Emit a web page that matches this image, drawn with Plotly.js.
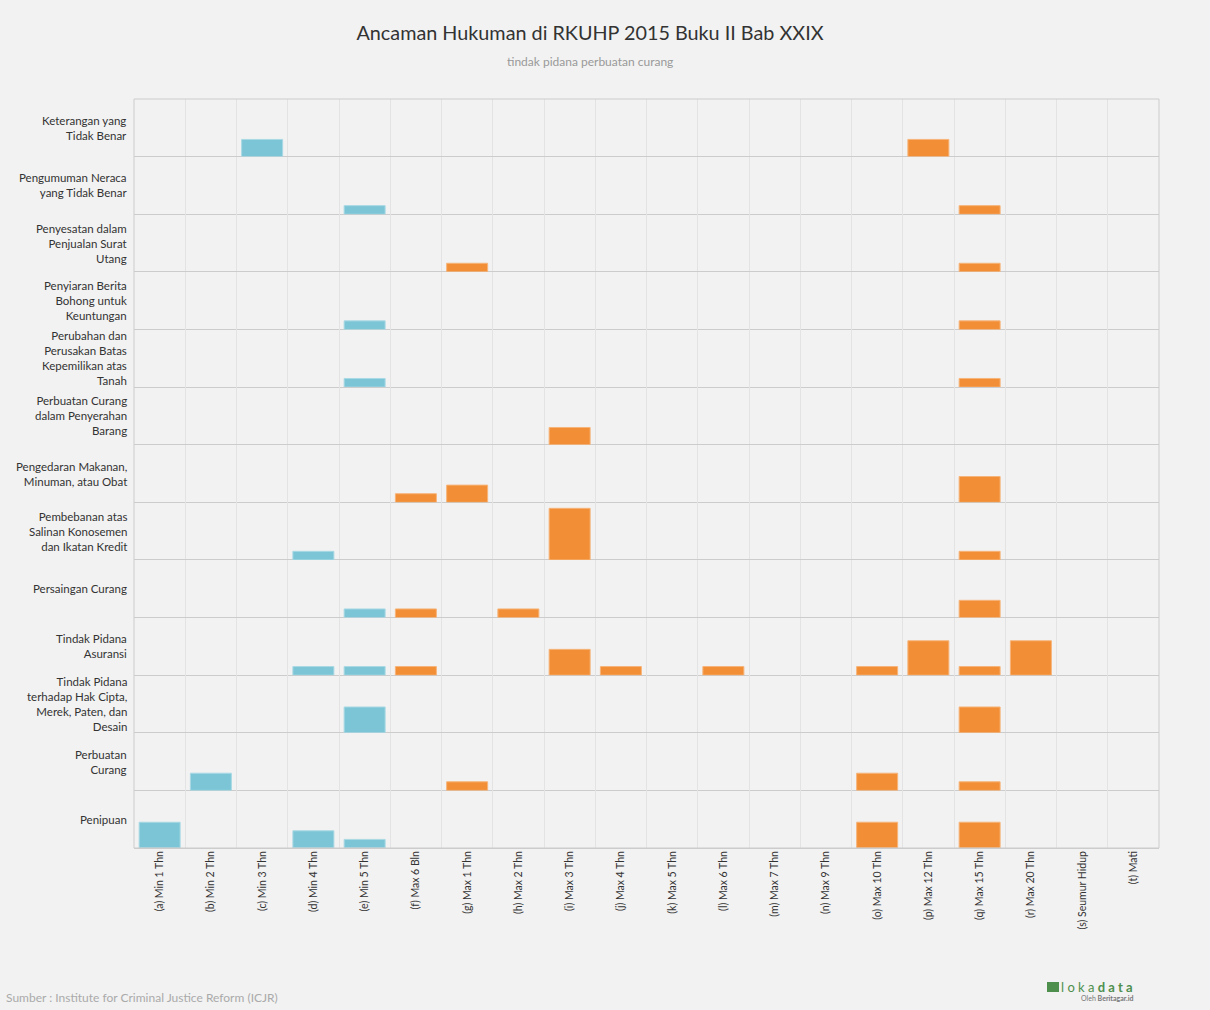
<!DOCTYPE html>
<html>
<head>
<meta charset="utf-8">
<script src="https://cdn.plot.ly/plotly-3.0.1.min.js"></script>
<style>
  html, body { margin: 0; padding: 0; background: #f2f2f2; }
  #chart { width: 1210px; height: 1010px; }
</style>
</head>
<body>
<div id="chart"></div>
<script>
// Column categories (penalty levels)
const categories = [
  "(a) Min 1 Thn", "(b) Min 2 Thn", "(c) Min 3 Thn", "(d) Min 4 Thn", "(e) Min 5 Thn",
  "(f) Max 6 Bln", "(g) Max 1 Thn", "(h) Max 2 Thn", "(i) Max 3 Thn", "(j) Max 4 Thn",
  "(k) Max 5 Thn", "(l) Max 6 Thn", "(m) Max 7 Thn", "(n) Max 9 Thn", "(o) Max 10 Thn",
  "(p) Max 12 Thn", "(q) Max 15 Thn", "(r) Max 20 Thn", "(s) Seumur Hidup", "(t) Mati"
];

// Row labels (offences), top to bottom
const rowLabels = [
  "Keterangan yang<br>Tidak Benar",
  "Pengumuman Neraca<br>yang Tidak Benar",
  "Penyesatan dalam<br>Penjualan Surat<br>Utang",
  "Penyiaran Berita<br>Bohong untuk<br>Keuntungan",
  "Perubahan dan<br>Perusakan Batas<br>Kepemilikan atas<br>Tanah",
  "Perbuatan Curang<br>dalam Penyerahan<br>Barang",
  "Pengedaran Makanan,<br>Minuman, atau Obat",
  "Pembebanan atas<br>Salinan Konosemen<br>dan Ikatan Kredit",
  "Persaingan Curang",
  "Tindak Pidana<br>Asuransi",
  "Tindak Pidana<br>terhadap Hak Cipta,<br>Merek, Paten, dan<br>Desain",
  "Perbuatan<br>Curang",
  "Penipuan"
];

// Number of articles per penalty level, one array per row (a .. t)
const keterangan   = [0,0,2,0,0, 0,0,0,0,0, 0,0,0,0,0, 2,0,0,0,0];
const pengumuman   = [0,0,0,0,1, 0,0,0,0,0, 0,0,0,0,0, 0,1,0,0,0];
const penyesatan   = [0,0,0,0,0, 0,1,0,0,0, 0,0,0,0,0, 0,1,0,0,0];
const penyiaran    = [0,0,0,0,1, 0,0,0,0,0, 0,0,0,0,0, 0,1,0,0,0];
const perubahan    = [0,0,0,0,1, 0,0,0,0,0, 0,0,0,0,0, 0,1,0,0,0];
const penyerahan   = [0,0,0,0,0, 0,0,0,2,0, 0,0,0,0,0, 0,0,0,0,0];
const pengedaran   = [0,0,0,0,0, 1,2,0,0,0, 0,0,0,0,0, 0,3,0,0,0];
const pembebanan   = [0,0,0,1,0, 0,0,0,6,0, 0,0,0,0,0, 0,1,0,0,0];
const persaingan   = [0,0,0,0,1, 1,0,1,0,0, 0,0,0,0,0, 0,2,0,0,0];
const asuransi     = [0,0,0,1,1, 1,0,0,3,1, 0,1,0,0,1, 4,1,4,0,0];
const hakCipta     = [0,0,0,0,3, 0,0,0,0,0, 0,0,0,0,0, 0,3,0,0,0];
const curang       = [0,2,0,0,0, 0,1,0,0,0, 0,0,0,0,2, 0,1,0,0,0];
const penipuan     = [3,0,0,2,1, 0,0,0,0,0, 0,0,0,0,3, 0,3,0,0,0];

const rowValues = [keterangan, pengumuman, penyesatan, penyiaran, perubahan, penyerahan,
  pengedaran, pembebanan, persaingan, asuransi, hakCipta, curang, penipuan];

const BLUE = "#7cc5d6", ORANGE = "#f28e35";
const BLUE_LINE = "#a9d9e4", ORANGE_LINE = "#f6b47a";
const isMin = categories.map(c => c.indexOf("Min") >= 0);

const nRows = rowLabels.length;
const rowH = 1 / nRows;
const traces = [];
const layout = {
  width: 1210, height: 1010,
  paper_bgcolor: "#f2f2f2", plot_bgcolor: "#f2f2f2",
  font: { family: "Lato, 'Open Sans', sans-serif", color: "#333" },
  margin: { l: 134, r: 51, t: 99, b: 162 },
  showlegend: false,
  bargap: 0.2,
  title: {
    text: "Ancaman Hukuman di RKUHP 2015 Buku II Bab XXIX",
    font: { family: "Lato, sans-serif", size: 19.8, color: "#333" },
    xref: "container", x: 0.4876, xanchor: "center",
    yref: "container", y: 0.967, yanchor: "middle"
  },
  xaxis: {
    type: "category",
    categoryorder: "array", categoryarray: categories,
    tickson: "boundaries",
    showgrid: true, gridcolor: "#e3e3e3", gridwidth: 1,
    ticks: "", tickangle: -90,
    tickfont: { size: 10.5, color: "#333" },
    showline: false, zeroline: false,
    anchor: "y" + (nRows === 1 ? "" : nRows),
    fixedrange: true
  },
  annotations: [
    { text: "tindak pidana perbuatan curang", xref: "paper", yref: "paper",
      x: (590 - 134) / 1025, y: 1, yshift: 38, xanchor: "center", yanchor: "middle",
      showarrow: false, font: { size: 12, color: "#999" } },
    { text: "Sumber : Institute for Criminal Justice Reform (ICJR)", xref: "paper", yref: "paper",
      x: 0, xshift: -130, y: 0, yshift: -149, xanchor: "left", yanchor: "middle",
      showarrow: false, font: { size: 12, color: "#aaa" } },
    { text: "l o k a <b>d a t a</b>", xref: "paper", yref: "paper",
      x: 1, xshift: -24, y: 0, yshift: -139, xanchor: "right", yanchor: "middle",
      showarrow: false, font: { size: 13, color: "#4e8f4e" } },
    { text: "Oleh <b>Beritagar.id</b>", xref: "paper", yref: "paper",
      x: 1, xshift: -24, y: 0, yshift: -150, xanchor: "right", yanchor: "middle",
      showarrow: false, font: { size: 7, color: "#777" } }
  ],
  shapes: [
    { type: "rect", xref: "paper", yref: "paper", x0: 0, x1: 1, y0: 0, y1: 1,
      line: { color: "#cccccc", width: 1 }, fillcolor: "rgba(0,0,0,0)", layer: "above" },
    { type: "rect", xref: "paper", yref: "paper", x0: 1.0 + (1047 - 1159) / 1025, x1: 1.0 + (1059 - 1159) / 1025,
      y0: -(982 - 848) / 749, y1: -(992 - 848) / 749,
      line: { width: 0 }, fillcolor: "#4e8f4e" }
  ]
};

for (let r = 0; r < nRows; r++) {
  const axNum = r + 1;
  const yName = axNum === 1 ? "y" : "y" + axNum;
  const yKey = axNum === 1 ? "yaxis" : "yaxis" + axNum;
  const top = 1 - r * rowH;
  const bottom = 1 - (r + 1) * rowH;
  layout[yKey] = {
    domain: [Math.max(0, bottom), Math.min(1, top)],
    range: [0, 6.7],
    showgrid: false, showticklabels: false, ticks: "",
    zeroline: true, zerolinecolor: "#cccccc", zerolinewidth: 1,
    showline: false, fixedrange: true
  };
  const vals = rowValues[r];
  traces.push({
    type: "bar",
    x: categories,
    y: vals.map(v => (v > 0 ? v : null)),
    xaxis: "x", yaxis: yName,
    marker: {
      color: isMin.map(m => m ? BLUE : ORANGE),
      line: { color: isMin.map(m => m ? BLUE_LINE : ORANGE_LINE), width: 1 }
    },
    hoverinfo: "x+y"
  });
  layout.annotations.push({
    text: rowLabels[r], xref: "paper", yref: yName + " domain",
    x: 0, xshift: -5, y: 0.5, xanchor: "right", yanchor: "middle", align: "right",
    showarrow: false, font: { size: 11.5, color: "#333" }
  });
}

Plotly.newPlot("chart", traces, layout, { displayModeBar: false, staticPlot: true });
</script>
</body>
</html>
